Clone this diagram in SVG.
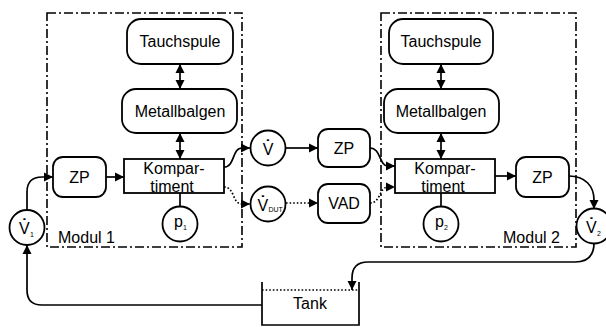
<svg xmlns="http://www.w3.org/2000/svg" width="606" height="327" viewBox="0 0 606 327">
<defs>
<marker id="ah" markerUnits="userSpaceOnUse" markerWidth="10" markerHeight="10" refX="9" refY="4.5" orient="auto-start-reverse" viewBox="0 0 10 9">
<path d="M0,0 L9,4.5 L0,9 z" fill="#000"/>
</marker>
<style>
.mod{fill:none;stroke:#000;stroke-width:1.6;stroke-dasharray:9 3 2 3}
.box{fill:#fff;stroke:#000;stroke-width:1.8}
.ln{fill:none;stroke:#000;stroke-width:1.7}
.dot{fill:none;stroke:#000;stroke-width:1.7;stroke-dasharray:1.6 2}
.arr{marker-end:url(#ah)}
.dbl{marker-start:url(#ah);marker-end:url(#ah)}
text{font-family:"Liberation Sans",Arial,sans-serif;font-size:16px;fill:#000}
.c{text-anchor:middle}
.s{font-size:7px}
.d{font-weight:bold}
</style>
</defs>
<g id="modul1"><rect class="mod" x="47" y="13" width="195" height="234"/><text x="58" y="243">Modul 1</text></g>
<g id="modul2"><rect class="mod" x="381" y="13" width="195" height="234"/><text x="503" y="243">Modul 2</text></g>
<g id="connectors">
<line class="ln dbl" x1="180" y1="64" x2="180" y2="89"/>
<line class="ln dbl" x1="180" y1="133" x2="180" y2="159"/>
<line class="ln dbl" x1="441" y1="64" x2="441" y2="89"/>
<line class="ln dbl" x1="441" y1="133" x2="441" y2="159"/>
<path class="ln arr" d="M27,210 L27,192 Q27,177 42,177 L53,177"/>
<path class="ln arr" d="M106,177 L124,177"/>
<path class="ln arr" d="M224,167 C235,167 232,148 242,148 L250,148"/>
<path class="ln arr" d="M286,148 L318,148"/>
<path class="ln arr" d="M370,148 C381,148 379,166 388,166 L395,166"/>
<path class="dot arr" d="M224,187 C235,187 232,204 242,204 L250,204"/>
<path class="dot arr" d="M286,203 L318,203"/>
<path class="dot arr" d="M370,203 C381,203 379,187 388,187 L395,187"/>
<path class="ln arr" d="M495,176 L516,176"/>
<path class="ln arr" d="M569,176 C585,176 594,186 594,200 L594,209"/>
<path class="ln arr" d="M594,243 Q594,262 575,262 L368,262 Q352,262 352,278 L352,290"/>
<path class="ln arr" d="M262,305 L42,305 Q27,305 27,290 L27,245"/>
<line class="ln" x1="180" y1="193" x2="180" y2="206"/>
<line class="ln" x1="441" y1="193" x2="441" y2="206"/>
</g>
<g id="tauchspule1"><rect class="box" x="127" y="19" width="106" height="45" rx="14"/><text class="c" x="180" y="47">Tauchspule</text></g>
<g id="metallbalgen1"><rect class="box" x="122" y="89" width="115" height="44" rx="14"/><text class="c" x="180" y="117">Metallbalgen</text></g>
<g id="tauchspule2"><rect class="box" x="389" y="19" width="104" height="45" rx="14"/><text class="c" x="441" y="47">Tauchspule</text></g>
<g id="metallbalgen2"><rect class="box" x="384" y="89" width="115" height="44" rx="14"/><text class="c" x="441" y="117">Metallbalgen</text></g>
<g id="zp1"><rect class="box" x="53" y="157" width="53" height="40" rx="10"/><text class="c" x="79.5" y="183">ZP</text></g>
<g id="kompartiment1"><rect class="box" x="124" y="159" width="100" height="34"/><text class="c" x="174" y="174">Kompar-</text><text class="c" x="172" y="191.5">timent</text></g>
<g id="p1"><circle class="box" cx="180" cy="224" r="17.5"/><text x="174" y="227">p<tspan class="s" dy="3">1</tspan></text></g>
<g id="v1"><circle class="box" cx="27" cy="227.5" r="17.5"/><text x="19" y="234">V<tspan class="d" dx="-8" dy="-4">˙</tspan><tspan class="s" dx="3" dy="7">1</tspan></text></g>
<g id="vdot"><circle class="box" cx="268" cy="148" r="17.5"/><text x="262.7" y="155">V<tspan class="d" dx="-8" dy="-4">˙</tspan></text></g>
<g id="vdut"><circle class="box" cx="268" cy="204" r="17.5"/><text x="257.5" y="211">V<tspan class="d" dx="-8" dy="-4">˙</tspan><tspan class="s" dx="3" dy="5">DUT</tspan></text></g>
<g id="zp2"><rect class="box" x="318" y="129" width="52" height="38" rx="10"/><text class="c" x="344" y="154">ZP</text></g>
<g id="vad"><rect class="box" x="318" y="184" width="52" height="39" rx="10"/><text class="c" x="344" y="209">VAD</text></g>
<g id="kompartiment2"><rect class="box" x="395" y="159" width="100" height="34"/><text class="c" x="445" y="174">Kompar-</text><text class="c" x="443" y="191.5">timent</text></g>
<g id="p2"><circle class="box" cx="441" cy="224" r="17.5"/><text x="435" y="227">p<tspan class="s" dy="3">2</tspan></text></g>
<g id="zp3"><rect class="box" x="516" y="157" width="53" height="40" rx="10"/><text class="c" x="542.5" y="183">ZP</text></g>
<g id="v2"><circle class="box" cx="594" cy="226" r="17.5"/><text x="586" y="233">V<tspan class="d" dx="-8" dy="-4">˙</tspan><tspan class="s" dx="3" dy="7">2</tspan></text></g>
<g id="tank"><path class="ln" d="M262,282 L262,325 L359,325 L359,282"/><line class="dot" x1="262" y1="290" x2="359" y2="290"/><text class="c" x="310" y="309">Tank</text></g>
</svg>
